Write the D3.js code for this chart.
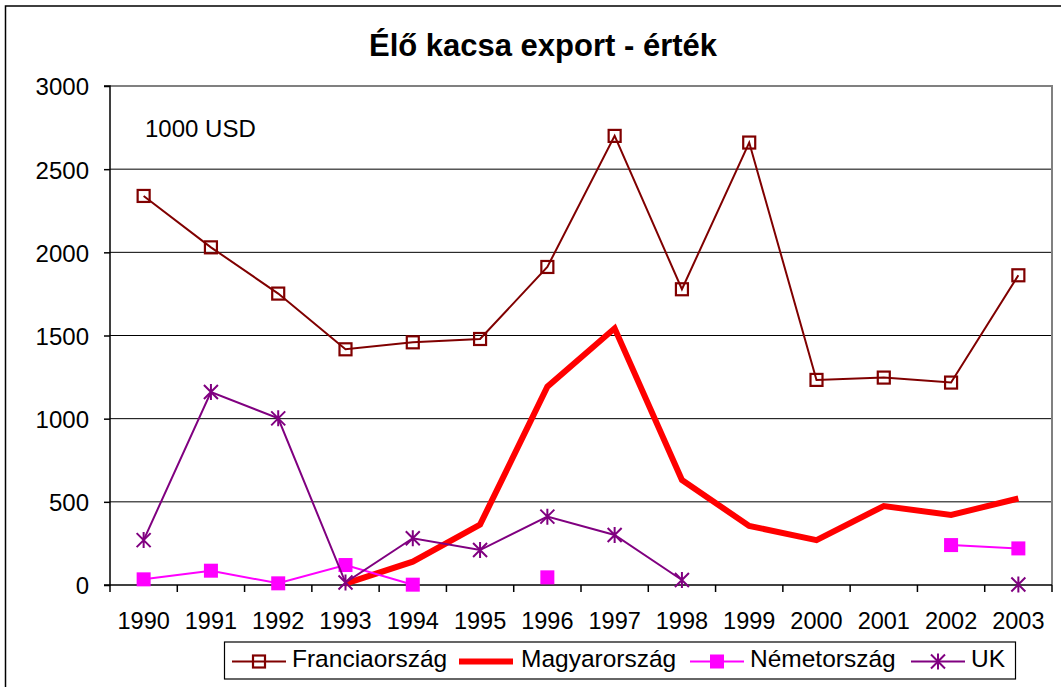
<!DOCTYPE html>
<html>
<head>
<meta charset="utf-8">
<script src="https://cdn.jsdelivr.net/npm/d3@7"></script>
<style>
  html, body { margin: 0; padding: 0; background: #fff; }
  svg { display: block; font-family: Arial, "Liberation Sans", sans-serif; }
</style>
</head>
<body>
<svg id="chart" width="1061" height="687"></svg>
<script>
const years = ["1990","1991","1992","1993","1994","1995","1996","1997","1998","1999","2000","2001","2002","2003"];
const francia = [2339, 2030, 1752, 1417, 1459, 1479, 1912, 2700, 1778, 2660, 1233, 1247, 1217, 1862];
const magyar  = [null, null, null, 8, 140, 363, 1192, 1543, 631, 355, 270, 475, 421, 520];
const nemet   = [34, 86, 10, 120, 2, null, 46, null, null, null, null, null, 240, 220];
const uk      = [270, 1160, 1002, 15, 281, 210, 411, 301, 30, null, null, null, null, 3];
const yTicks  = [0, 500, 1000, 1500, 2000, 2500, 3000];
const seriesNames = ["Franciaország", "Magyarország", "Németország", "UK"];
const titleText = "Élő kacsa export - érték";
const unitText = "1000 USD";

const svg = d3.select("#chart");
const plot = { left: 110, right: 1052, top: 86, bottom: 585 };

// outer chart border
svg.append("rect").attr("x", 5.5).attr("y", 6).attr("width", 1100).attr("height", 1000)
  .attr("fill", "none").attr("stroke", "#000").attr("stroke-width", 1.5);

const x = d3.scaleBand().domain(years).range([plot.left, plot.right]).padding(0);
const y = d3.scaleLinear().domain([0, 3000]).range([plot.bottom, plot.top]);
const cx = d => x(d) + x.bandwidth() / 2;

// gridlines
svg.append("g").selectAll("line").data(yTicks.filter(t => t > 0 && t < 3000)).join("line")
  .attr("x1", plot.left).attr("x2", plot.right)
  .attr("y1", d => y(d)).attr("y2", d => y(d))
  .attr("stroke", "#000").attr("stroke-width", 1);

// plot border top/right gray
svg.append("path")
  .attr("d", `M${plot.left},${y(3000)}H${plot.right}V${plot.bottom}`)
  .attr("fill", "none").attr("stroke", "#808080").attr("stroke-width", 2);

// y axis
const yAxis = d3.axisLeft(y).tickValues(yTicks).tickSize(6).tickPadding(15).tickFormat(d3.format("d"));
const gy = svg.append("g").attr("transform", `translate(${plot.left},0)`).call(yAxis);
gy.select(".domain").attr("stroke", "#000").attr("stroke-width", 1.5).attr("d", `M-6,${plot.top}H0V${plot.bottom}H-6`);
gy.selectAll(".tick line").attr("stroke", "#000").attr("stroke-width", 1.5);
gy.selectAll(".tick text").attr("font-size", "24px").attr("fill", "#000")
  .attr("font-family", "Arial, 'Liberation Sans', sans-serif").attr("dy", "0.37em");

// x axis
const gx = svg.append("g").attr("transform", `translate(0,${plot.bottom})`);
gx.append("line").attr("x1", plot.left).attr("x2", plot.right).attr("y1", 0).attr("y2", 0)
  .attr("stroke", "#000").attr("stroke-width", 1.5);
const boundaries = years.map(d => x(d)).concat([x(years[years.length - 1]) + x.bandwidth()]);
gx.selectAll("line.tk").data(boundaries).join("line").attr("class", "tk")
  .attr("x1", d => d).attr("x2", d => d).attr("y1", 0).attr("y2", 7)
  .attr("stroke", "#000").attr("stroke-width", 1.5);
gx.selectAll("text").data(years).join("text")
  .attr("x", d => cx(d)).attr("y", 44).attr("text-anchor", "middle")
  .attr("font-size", "23.5px").attr("fill", "#000").text(d => d);

// title
svg.append("text").attr("x", 543).attr("y", 56).attr("text-anchor", "middle")
  .attr("font-size", "31px").attr("font-weight", "bold").attr("fill", "#000").text(titleText);

// unit
svg.append("text").attr("x", 145).attr("y", 137).attr("font-size", "24px").attr("fill", "#000").text(unitText);

function lineGen(vals) {
  return d3.line().defined(d => d != null).x((d, i) => cx(years[i])).y(d => y(d))(vals);
}

const colors = ["#800000", "#FF0000", "#FF00FF", "#800080"];
const widths = [2, 6, 2, 2];

function squareHollow(g, px, py, c) {
  g.append("rect").attr("x", px - 6).attr("y", py - 6).attr("width", 12).attr("height", 12)
    .attr("fill", "none").attr("stroke", c).attr("stroke-width", 2.2);
}
function squareFilled(g, px, py, c) {
  g.append("rect").attr("x", px - 7).attr("y", py - 7).attr("width", 14).attr("height", 14)
    .attr("fill", c);
}
function star(g, px, py, c) {
  const r = 7;
  g.append("path").attr("d",
    `M${px - r},${py - r}L${px + r},${py + r}M${px - r},${py + r}L${px + r},${py - r}M${px},${py - r - 1}V${py + r + 1}`)
    .attr("stroke", c).attr("stroke-width", 2).attr("fill", "none");
}
const markers = [squareHollow, null, squareFilled, star];
const data = [francia, magyar, nemet, uk];

data.forEach((vals, si) => {
  const g = svg.append("g");
  g.append("path").attr("d", lineGen(vals)).attr("fill", "none")
    .attr("stroke", colors[si]).attr("stroke-width", widths[si]).attr("stroke-linejoin", "miter");
  if (markers[si]) {
    vals.forEach((v, i) => { if (v != null) markers[si](g, cx(years[i]), y(v), colors[si]); });
  }
});

// legend
const leg = svg.append("g");
leg.append("rect").attr("x", 224.5).attr("y", 642).attr("width", 791).attr("height", 37)
  .attr("fill", "#fff").attr("stroke", "#000").attr("stroke-width", 1.2);
const legLineX = [232, 459, 690, 911];
const legY = 661.5;
seriesNames.forEach((name, si) => {
  const lx = legLineX[si];
  leg.append("line").attr("x1", lx).attr("x2", lx + 54).attr("y1", legY).attr("y2", legY)
    .attr("stroke", colors[si]).attr("stroke-width", widths[si]);
  if (markers[si]) markers[si](leg, lx + 27, legY, colors[si]);
  leg.append("text").attr("x", lx + (si === 1 ? 62 : 60)).attr("y", 667).attr("font-size", "24.5px")
    .attr("fill", "#000").text(name);
});
</script>
</body>
</html>
